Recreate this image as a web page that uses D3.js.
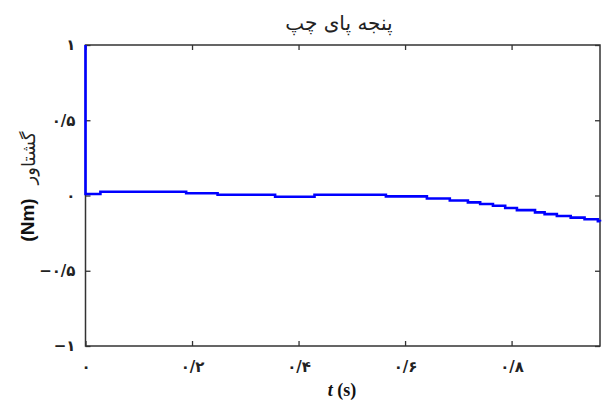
<!DOCTYPE html>
<html><head><meta charset="utf-8">
<script src="https://cdn.jsdelivr.net/npm/d3@7"></script>
<style>body{margin:0;background:#fff}svg{display:block}</style>
</head><body>
<svg id="c" width="605" height="401"></svg>
<script>
// Data (time in s, torque in Nm)
const times  = [0, 0, 0.028, 0.189, 0.248, 0.356, 0.430, 0.564, 0.641, 0.684, 0.718, 0.741, 0.765, 0.788, 0.810, 0.844, 0.862, 0.885, 0.911, 0.937, 0.962, 0.966];
const torque = [1, 0.01, 0.025, 0.015, 0.005, -0.008, 0.005, -0.006, -0.02, -0.033, -0.046, -0.056, -0.068, -0.083, -0.097, -0.112, -0.124, -0.136, -0.147, -0.158, -0.17, -0.172];
const xTicks = [0, 0.2, 0.4, 0.6, 0.8];
const xTickLabels = ["۰", "۰/۲", "۰/۴", "۰/۶", "۰/۸"];
const yTicks = [1, 0.5, 0, -0.5, -1];
const yTickLabels = ["۱", "۰/۵", "۰", "−۰/۵", "−۱"];
const title = "پنجه پای چپ";
const yLabelFa = "گشتاور";
const yLabelUnit = "(Nm)";

const svg = d3.select("#c");
const L = 85.5, R = 600, T = 45, B = 346;
const x = d3.scaleLinear().domain([0, 0.966]).range([L, R]);
const y = d3.scaleLinear().domain([-1, 1]).range([B, T]);

const tickLen = 5;
const axisColor = "#333";
const persianFont = "DejaVu Sans";

// Bottom axis
const gx = svg.append("g").attr("transform", `translate(0,${B})`)
  .call(d3.axisBottom(x).tickValues(xTicks).tickSizeInner(-tickLen).tickSizeOuter(0).tickFormat((d,i)=>xTickLabels[i]));
gx.selectAll("text").attr("dy", "1.5em").attr("font-family", persianFont).attr("font-size", 15).attr("font-weight", "bold").attr("direction","ltr").attr("fill","#222");
// Top axis
svg.append("g").attr("transform", `translate(0,${T})`)
  .call(d3.axisTop(x).tickValues(xTicks).tickSizeInner(-tickLen).tickSizeOuter(0).tickFormat(""));
// Left axis
const gy = svg.append("g").attr("transform", `translate(${L},0)`)
  .call(d3.axisLeft(y).tickValues(yTicks).tickSizeInner(-tickLen).tickSizeOuter(0).tickFormat((d,i)=>yTickLabels[i]));
gy.selectAll("text").attr("x", -10).attr("font-family", persianFont).attr("font-size", 15).attr("font-weight", "bold").attr("direction","ltr").attr("fill","#222");
// Right axis
svg.append("g").attr("transform", `translate(${R},0)`)
  .call(d3.axisRight(y).tickValues(yTicks).tickSizeInner(-tickLen).tickSizeOuter(0).tickFormat(""));

svg.selectAll(".domain").remove();
svg.selectAll(".tick line").attr("stroke", axisColor).attr("stroke-width", 1.3);

// Box
svg.append("rect").attr("x", L).attr("y", T).attr("width", R - L).attr("height", B - T)
  .attr("fill", "none").attr("stroke", axisColor).attr("stroke-width", 1.5);

// Line
const pts = times.map((t, i) => [t, torque[i]]);
svg.append("path").datum(pts)
  .attr("d", d3.line().x(d => x(d[0])).y(d => y(d[1])).curve(d3.curveStepAfter))
  .attr("fill", "none").attr("stroke", "#0000ff").attr("stroke-width", 2.6);

// Title
svg.append("text").attr("x", 339).attr("y", 30).attr("text-anchor", "middle")
  .attr("font-family", persianFont).attr("font-size", 20).attr("fill", "#222").text(title);

// X label
const xl = svg.append("text").attr("x", 342).attr("y", 396).attr("text-anchor", "middle")
  .attr("font-family", "Liberation Serif").attr("font-weight", "bold").attr("font-size", 18).attr("fill", "#111");
xl.append("tspan").attr("font-style", "italic").text("t");
xl.append("tspan").text(" (s)");

// Y label
svg.append("text").attr("transform", "translate(34,220) rotate(-90)").attr("text-anchor", "middle")
  .attr("font-family", "Liberation Sans").attr("font-weight", "bold").attr("font-size", 19).attr("fill", "#111").text(yLabelUnit);
svg.append("text").attr("transform", "translate(35,158) rotate(-90)").attr("text-anchor", "middle")
  .attr("font-family", persianFont).attr("font-size", 18).attr("fill", "#222").text(yLabelFa);
</script>
</body></html>
